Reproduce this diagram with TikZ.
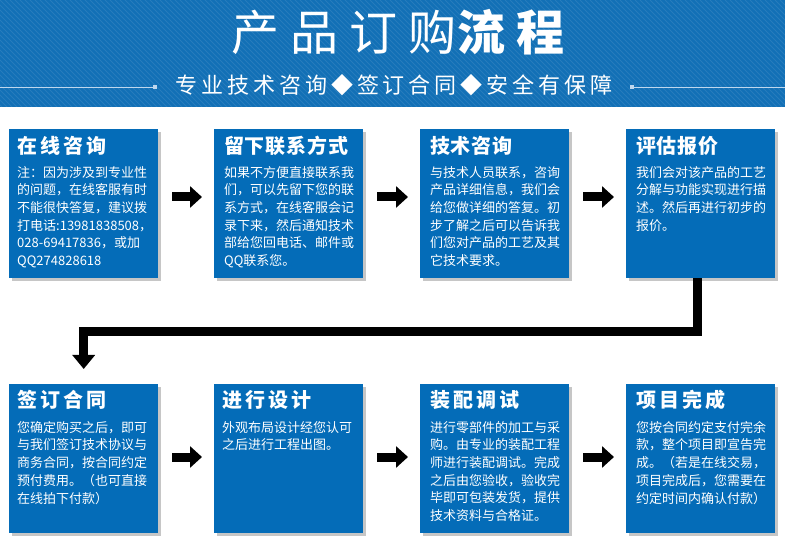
\documentclass[tikz,border=0pt]{standalone}
\usepackage{fontspec}
\setmainfont{Noto Sans CJK SC}
\newfontfamily\cjkwide[LetterSpace=15]{Noto Sans CJK SC}
\newfontfamily\cjknarrow[LetterSpace=4]{Noto Sans CJK SC}
\newfontfamily\cjktitle[LetterSpace=23]{Noto Sans CJK SC}
\newfontfamily\cjksub[LetterSpace=18]{Noto Sans CJK SC}
\usetikzlibrary{arrows.meta,shadows}
\definecolor{boxblue}{RGB}{4,108,184}
\definecolor{headblue}{RGB}{18,112,182}
\definecolor{rulecol}{RGB}{190,215,238}
\tikzset{
  card/.style={fill=boxblue, minimum width=149pt, minimum height=149pt, inner sep=0pt, anchor=north west,
    drop shadow={shadow xshift=3pt, shadow yshift=-3pt, opacity=0.45}},
  cardhead/.style={text=white, anchor=base west, inner sep=0pt, font=\fontsize{20}{24}\selectfont\bfseries},
  cardbody/.style={text=white, anchor=north west, inner sep=0pt, align=left, font=\fontsize{13}{17.7}\selectfont},
  flow/.style={line width=9pt, -{Triangle[length=12pt,width=21pt]}, shorten <=14pt, shorten >=12pt},
  bigflow/.style={line width=9pt, line join=miter, -{Triangle[length=14pt,width=22pt]}, shorten >=15pt},
}
\begin{document}
\begin{tikzpicture}[x=1pt,y=-1pt]
\useasboundingbox (0,0) rectangle (785,545);
% header band
\fill[headblue] (0,0) rectangle (785,107);
\begin{scope}
\clip (0,0) rectangle (785,107);
\foreach \i in {-110,-105,...,790} \draw[white, opacity=0.09, line width=1pt] (\i,0) -- ++(110,110);
\end{scope}
\node[text=white, anchor=base, inner sep=0pt, font=\fontsize{48}{52}\selectfont] (title) at (398,51) {\cjktitle 产品订购\bfseries 流程};
\node[text=white, anchor=base, inner sep=0pt, font=\fontsize{22}{26}\selectfont] (sub) at (394,94) {\cjksub 专业技术咨询◆签订合同◆安全有保障};
\draw[rulecol, line width=0.8pt] (0,87) -- (153,87);
\fill[rulecol] (153,85) rectangle (157,89);
\fill[rulecol] (630,85) rectangle (634,89);
\draw[rulecol, line width=0.8pt] (634,87) -- (785,87);

% cards
\node[card] (b1) at (9,129) {};
\node[card] (b2) at (214,129) {};
\node[card] (b3) at (420,129) {};
\node[card] (b4) at (626,129) {};
\node[card] (b5) at (9,384) {};
\node[card] (b6) at (214,384) {};
\node[card] (b7) at (420,384) {};
\node[card] (b8) at (626,384) {};

% headings
\node[cardhead] (h1) at ([xshift=8pt,yshift=-25pt]b1.north west) {\cjkwide\bfseries 在线咨询};
\node[cardhead] (h2) at ([xshift=10pt,yshift=-25pt]b2.north west) {\cjknarrow\bfseries 留下联系方式};
\node[cardhead] (h3) at ([xshift=10pt,yshift=-25pt]b3.north west) {\cjknarrow\bfseries 技术咨询};
\node[cardhead] (h4) at ([xshift=10pt,yshift=-25pt]b4.north west) {\cjknarrow\bfseries 评估报价};
\node[cardhead] (h5) at ([xshift=8pt,yshift=-24pt]b5.north west) {\cjkwide\bfseries 签订合同};
\node[cardhead] (h6) at ([xshift=8pt,yshift=-24pt]b6.north west) {\cjkwide\bfseries 进行设计};
\node[cardhead] (h7) at ([xshift=10pt,yshift=-24pt]b7.north west) {\cjkwide\bfseries 装配调试};
\node[cardhead] (h8) at ([xshift=10pt,yshift=-24pt]b8.north west) {\cjkwide\bfseries 项目完成};

% bodies
\node[cardbody] (t1) at ([xshift=8pt,yshift=-37pt]b1.north west) {注：因为涉及到专业性\\的问题，在线客服有时\\不能很快答复，建议拨\\打电话:13981838508，\\028-69417836，或加\\QQ274828618};
\node[cardbody] (t2) at ([xshift=10pt,yshift=-37pt]b2.north west) {如果不方便直接联系我\\们，可以先留下您的联\\系方式，在线客服会记\\录下来，然后通知技术\\部给您回电话、邮件或\\QQ联系您。};
\node[cardbody] (t3) at ([xshift=10pt,yshift=-37pt]b3.north west) {与技术人员联系，咨询\\产品详细信息，我们会\\给您做详细的答复。初\\步了解之后可以告诉我\\们您对产品的工艺及其\\它技术要求。};
\node[cardbody] (t4) at ([xshift=10pt,yshift=-37pt]b4.north west) {我们会对该产品的工艺\\分解与功能实现进行描\\述。然后再进行初步的\\报价。};
\node[cardbody] (t5) at ([xshift=8pt,yshift=-37pt]b5.north west) {您确定购买之后，即可\\与我们签订技术协议与\\商务合同，按合同约定\\预付费用。（也可直接\\在线拍下付款）};
\node[cardbody] (t6) at ([xshift=8pt,yshift=-37pt]b6.north west) {外观布局设计经您认可\\之后进行工程出图。};
\node[cardbody] (t7) at ([xshift=10pt,yshift=-37pt]b7.north west) {进行零部件的加工与采\\购。由专业的装配工程\\师进行装配调试。完成\\之后由您验收，验收完\\毕即可包装发货，提供\\技术资料与合格证。};
\node[cardbody] (t8) at ([xshift=10pt,yshift=-37pt]b8.north west) {您按合同约定支付完余\\款，整个项目即宣告完\\成。（若是在线交易，\\项目完成后，您需要在\\约定时间内确认付款）};

% connectors
\draw[flow] ([yshift=-68pt]b1.north east) -- ([yshift=-68pt]b2.north west);
\draw[flow] ([yshift=-68pt]b2.north east) -- ([yshift=-68pt]b3.north west);
\draw[flow] ([yshift=-68pt]b3.north east) -- ([yshift=-68pt]b4.north west);
\draw[flow] ([yshift=-73pt]b5.north east) -- ([yshift=-73pt]b6.north west);
\draw[flow] ([yshift=-73pt]b6.north east) -- ([yshift=-73pt]b7.north west);
\draw[flow] ([yshift=-73pt]b7.north east) -- ([yshift=-73pt]b8.north west);
\coordinate (bend) at (0,332);
\draw[bigflow] ([xshift=-3pt]b4.south) -- ([xshift=-3pt]b4.south |- bend) -| (b5.north);
\end{tikzpicture}
\end{document}
